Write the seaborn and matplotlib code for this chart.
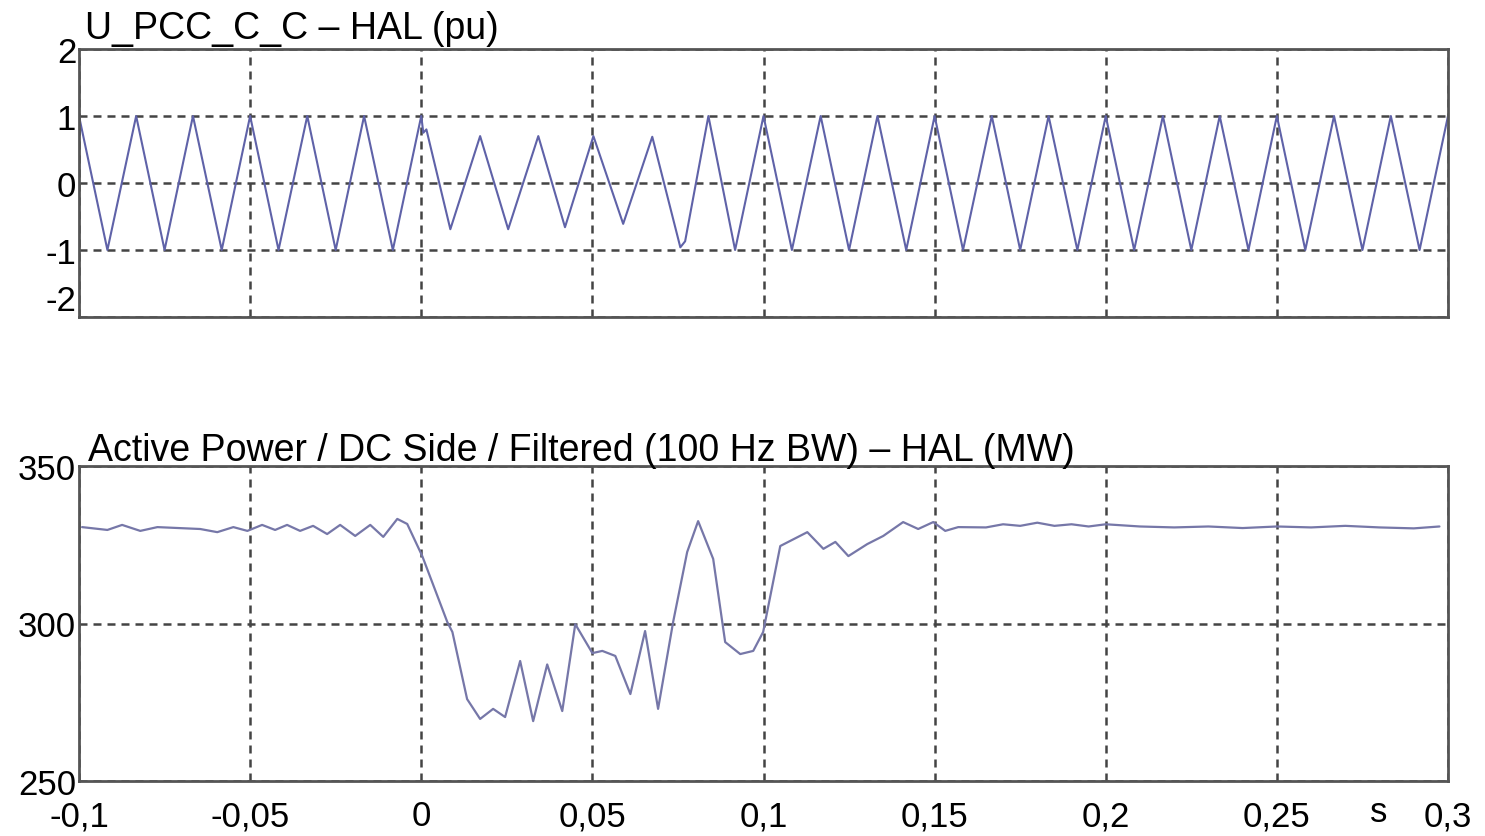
import numpy as np
import pandas as pd
import matplotlib
matplotlib.use("Agg")
import matplotlib.pyplot as plt
import seaborn as sns

# U_PCC_C_C voltage, peaks and troughs (s, pu)
u_time = [-0.1, -0.0917, -0.0833, -0.075, -0.0667, -0.0583, -0.05, -0.0417,
          -0.0333, -0.025, -0.0167, -0.0083, 0.0, 0.0006, 0.0015,
          0.0085, 0.0172, 0.0254, 0.0342, 0.042, 0.0503, 0.059, 0.0675,
          0.0757, 0.0771, 0.0839, 0.0917, 0.1, 0.1083, 0.1167, 0.125,
          0.1333, 0.1417, 0.15, 0.1583, 0.1667, 0.175, 0.1833, 0.1917,
          0.2, 0.2083, 0.2167, 0.225, 0.2333, 0.2417, 0.25, 0.2583,
          0.2667, 0.275, 0.2833, 0.2917, 0.3]
u_value = [1.0, -1.0, 1.0, -1.0, 1.0, -1.0, 1.0, -1.0,
           1.0, -1.0, 1.0, -1.0, 1.0, 0.75, 0.8,
           -0.69, 0.70, -0.69, 0.70, -0.66, 0.70, -0.61, 0.69,
           -0.96, -0.87, 1.0, -1.0, 1.0, -1.0, 1.0, -1.0,
           1.0, -1.0, 1.0, -1.0, 1.0, -1.0, 1.0, -1.0,
           1.0, -1.0, 1.0, -1.0, 1.0, -1.0, 1.0, -1.0,
           1.0, -1.0, 1.0, -1.0, 1.0]

# active power, DC side, filtered (s, MW)
p_time = [-0.0991, -0.0917, -0.0874, -0.0821, -0.0771, -0.0646, -0.0596,
          -0.0549, -0.0508, -0.0465, -0.0427, -0.0392, -0.0354, -0.0316,
          -0.0275, -0.0237, -0.0193, -0.0149, -0.0111, -0.0070, -0.0041,
          0.0003, 0.0076, 0.0091, 0.0134, 0.0172, 0.0210, 0.0245, 0.0289,
          0.0327, 0.0368, 0.0412, 0.0450, 0.0500, 0.0529, 0.0567, 0.0611,
          0.0654, 0.0692, 0.0736, 0.0777, 0.0809, 0.0853, 0.0888, 0.0932,
          0.0970, 0.0999, 0.1049, 0.1128, 0.1175, 0.1210, 0.1248, 0.1303,
          0.1350, 0.1408, 0.1452, 0.1496, 0.1531, 0.1569, 0.165, 0.17,
          0.175, 0.18, 0.185, 0.19, 0.195, 0.2, 0.21, 0.22, 0.23, 0.24,
          0.25, 0.26, 0.27, 0.28, 0.29, 0.2975]
p_value = [330.6, 329.7, 331.3, 329.4, 330.6, 330.0, 329.0,
           330.6, 329.4, 331.3, 329.7, 331.3, 329.4, 331.0,
           328.4, 331.3, 327.8, 331.3, 327.5, 333.2, 331.6,
           321.4, 300.5, 297.3, 276.0, 269.7, 272.9, 270.3, 288.1,
           269.0, 287.0, 272.2, 299.8, 290.6, 291.3, 289.7, 277.6,
           297.6, 272.9, 300.5, 322.7, 332.5, 320.5, 294.1, 290.3,
           291.3, 297.3, 324.6, 329.0, 323.7, 325.9, 321.4, 325.2,
           327.8, 332.2, 330.0, 332.2, 329.4, 330.6, 330.5, 331.5,
           331.0, 332.0, 331.0, 331.5, 330.8, 331.5, 330.8, 330.5, 330.8, 330.3,
           330.8, 330.5, 331.0, 330.5, 330.2, 330.8]

x_ticks = [-0.1, -0.05, 0, 0.05, 0.1, 0.15, 0.2, 0.25, 0.3]
x_labels = ["-0,1", "-0,05", "0", "0,05", "0,1", "0,15", "0,2", "0,25", "0,3"]

sns.set_style("white")
plt.rcParams["font.family"] = ["Liberation Sans", "DejaVu Sans"]
plt.rcParams["axes.unicode_minus"] = False
plt.rcParams["text.color"] = "black"
plt.rcParams["xtick.labelcolor"] = "black"
plt.rcParams["ytick.labelcolor"] = "black"

u_df = pd.DataFrame({"t": u_time, "u": u_value})
p_df = pd.DataFrame({"t": p_time, "p": p_value})

fig = plt.figure(figsize=(14.85, 8.37), dpi=100)
ax1 = fig.add_axes([79 / 1485, 1 - 318 / 837, 1369 / 1485, 268 / 837])
ax2 = fig.add_axes([79 / 1485, 1 - 782 / 837, 1369 / 1485, 315 / 837])

sns.lineplot(data=u_df, x="t", y="u", ax=ax1, color="#5f62a8", lw=1.5,
             sort=False, estimator=None)
sns.lineplot(data=p_df, x="t", y="p", ax=ax2, color="#7677a8", lw=1.6,
             sort=False, estimator=None)

grid_kw = dict(color="#444444", lw=1.8, linestyle=(0, (3.2, 2.4)))
for ax in (ax1, ax2):
    ax.set_xlim(-0.1, 0.3)
    ax.set_xticks(x_ticks)
    ax.grid(True, **grid_kw)
    ax.set_xlabel("")
    ax.set_ylabel("")
    for s in ax.spines.values():
        s.set_color("#555555")
        s.set_linewidth(2)
    ax.tick_params(direction="in", length=3, color="#555555",
                   labelsize=25, pad=2, labelcolor="black")

ax1.set_ylim(-2, 2)
ax1.set_yticks([-2, -1, 0, 1, 2])
ax1.set_yticklabels(["-2", "-1", "0", "1", "2"])
ax1.get_yticklabels()[0].set_va("bottom")
ax1.set_xticklabels([])

ax2.set_ylim(250, 350)
ax2.set_yticks([250, 300, 350])
ax2.set_xticklabels(x_labels)
ax2.tick_params(axis="x", pad=13)

fig.text(85 / 1485, 1 - 39 / 837, "U_PCC_C_C \u2013 HAL (pu)", fontsize=27,
         ha="left", va="baseline", color="black")
fig.text(88 / 1485, 1 - 461 / 837,
         "Active Power / DC Side / Filtered (100 Hz BW) \u2013 HAL (MW)",
         fontsize=27, ha="left", va="baseline", color="black")
fig.text(1379 / 1485, 1 - 813 / 837, "s", fontsize=25, ha="center",
         va="center", color="black")

fig.savefig("out.png", dpi=100)
